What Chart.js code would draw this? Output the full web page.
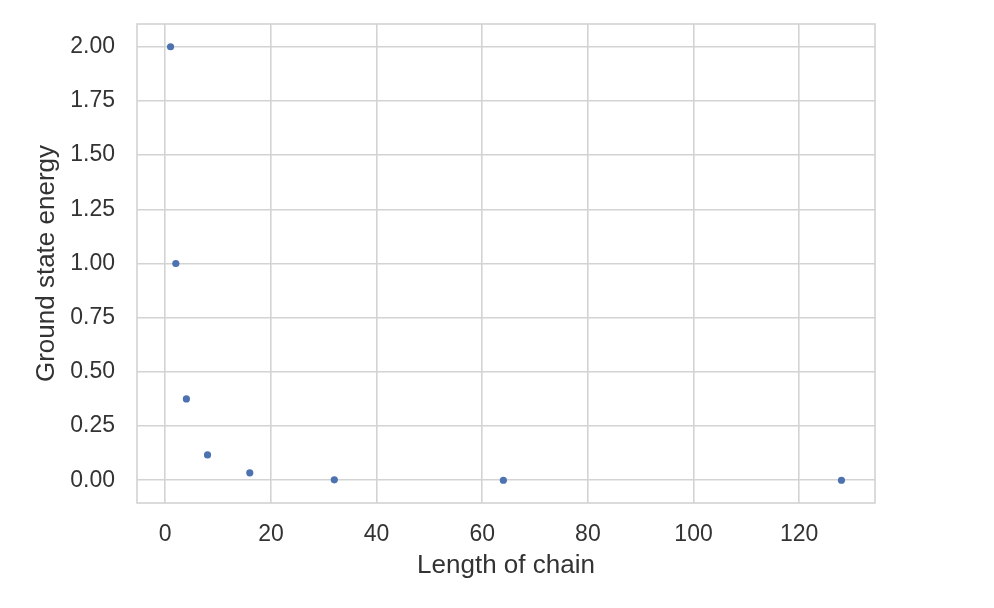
<!DOCTYPE html>
<html>
<head>
<meta charset="utf-8">
<script src="https://cdn.jsdelivr.net/npm/chart.js@4/dist/chart.umd.min.js"></script>
<style>
  html, body { margin: 0; padding: 0; background: #ffffff; }
  #wrap { width: 994px; height: 608px; position: relative; }
</style>
</head>
<body>
<div id="wrap"><canvas id="c" width="994" height="608"></canvas></div>
<script>
// Data
const chainLengths = [1, 2, 4, 8, 16, 32, 64, 128];
const groundEnergies = [2.0, 1.0, 0.375, 0.117, 0.034, 0.002, 0.0, 0.0];
const xTickValues = [0, 20, 40, 60, 80, 100, 120];
const yTickValues = [0, 0.25, 0.5, 0.75, 1.0, 1.25, 1.5, 1.75, 2.0];
const xTitle = 'Length of chain';
const yTitle = 'Ground state energy';

const gridColor = '#d3d3d3';
const textColor = '#333333';
const fontFamily = '"Liberation Sans", Arial, sans-serif';

const framePlugin = {
  id: 'frame',
  beforeDatasetsDraw(chart) {
    const { ctx, chartArea: a } = chart;
    ctx.save();
    ctx.strokeStyle = gridColor;
    ctx.lineWidth = 1.6;
    ctx.strokeRect(a.left, a.top, a.right - a.left, a.bottom - a.top);
    ctx.restore();
  }
};

new Chart(document.getElementById('c'), {
  type: 'scatter',
  data: {
    datasets: [{
      data: chainLengths.map((x, i) => ({ x: x, y: groundEnergies[i] })),
      backgroundColor: '#4c72b0',
      borderWidth: 0,
      pointRadius: 3.6,
      pointHoverRadius: 3.6
    }]
  },
  options: {
    responsive: false,
    animation: false,
    events: [],
    layout: { padding: { left: 0, right: 119, top: 24, bottom: 0 } },
    plugins: { legend: { display: false }, tooltip: { enabled: false } },
    scales: {
      x: {
        type: 'linear',
        min: -5.35,
        max: 134.35,
        afterBuildTicks: (s) => { s.ticks = xTickValues.map(v => ({ value: v })); },
        afterFit: (s) => { s.height = 105; s.paddingLeft = 0; s.paddingRight = 0; },
        grid: { color: gridColor, lineWidth: 1.6, drawTicks: false },
        border: { display: false },
        ticks: {
          padding: 18,
          color: textColor,
          font: { family: fontFamily, size: 23 },
          maxRotation: 0,
          callback: (v) => String(v)
        },
        title: {
          display: true,
          text: xTitle,
          color: textColor,
          font: { family: fontFamily, size: 26 },
          padding: { top: 0, bottom: 27 }
        }
      },
      y: {
        type: 'linear',
        min: -0.105,
        max: 2.105,
        afterBuildTicks: (s) => { s.ticks = yTickValues.map(v => ({ value: v })); },
        afterFit: (s) => { s.width = 137; s.paddingTop = 0; s.paddingBottom = 0; },
        grid: { color: gridColor, lineWidth: 1.6, drawTicks: false },
        border: { display: false },
        ticks: {
          padding: 22,
          color: textColor,
          font: { family: fontFamily, size: 23 },
          callback: (v) => Number(v).toFixed(2)
        },
        title: {
          display: true,
          text: yTitle,
          color: textColor,
          font: { family: fontFamily, size: 26 },
          padding: { top: 31, bottom: 0 }
        }
      }
    }
  },
  plugins: [framePlugin]
});
</script>
</body>
</html>
